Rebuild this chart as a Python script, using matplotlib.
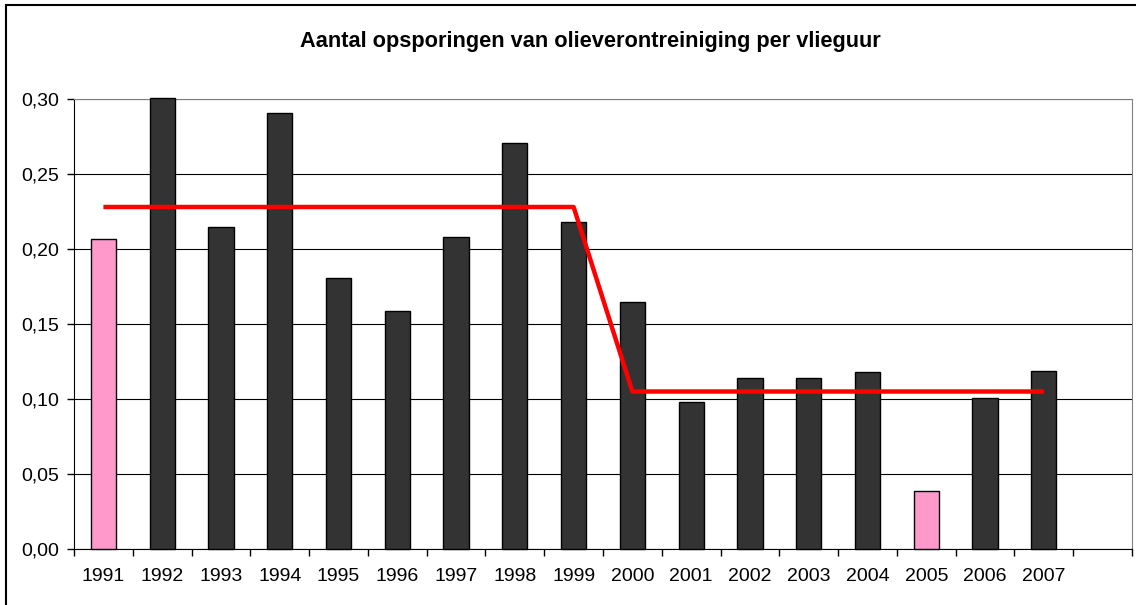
import numpy as np
import matplotlib.pyplot as plt
from matplotlib.patches import Rectangle

jaren = ['1991', '1992', '1993', '1994', '1995', '1996', '1997', '1998', '1999',
         '2000', '2001', '2002', '2003', '2004', '2005', '2006', '2007', '']
waarden = [0.207, 0.301, 0.215, 0.291, 0.181, 0.159, 0.208, 0.271, 0.218,
           0.165, 0.098, 0.114, 0.114, 0.118, 0.039, 0.101, 0.119]
trend = [0.228, 0.228, 0.228, 0.228, 0.228, 0.228, 0.228, 0.228, 0.228,
         0.105, 0.105, 0.105, 0.105, 0.105, 0.105, 0.105, 0.105]
afwijkend = ['1991', '2005']

plt.rcParams['font.family'] = ['Liberation Sans', 'DejaVu Sans']

fig = plt.figure(figsize=(11.36, 6.05), dpi=100)
ax = fig.add_axes([74 / 1136, 1 - 549 / 605, (1132 - 74) / 1136, (549 - 99) / 605])

x = np.arange(len(waarden))
kleuren = ['#FF99CC' if j in afwijkend else '#333333' for j in jaren[:len(waarden)]]
ax.bar(x, waarden, width=0.43, color=kleuren, edgecolor='black', linewidth=1,
       zorder=3, clip_on=False)
ax.plot(x, trend, color='#FF0000', linewidth=3.2, zorder=4, solid_capstyle='butt')

ax.set_xlim(-0.5, len(jaren) - 0.5)
ax.set_ylim(0, 0.30)
ax.set_yticks(np.arange(0, 0.301, 0.05))
ax.set_yticklabels([('%.2f' % v).replace('.', ',') for v in np.arange(0, 0.301, 0.05)])
ax.yaxis.grid(True, color='black', linewidth=0.8, zorder=0)

ax.set_xticks(x.tolist() + [len(waarden)])
ax.set_xticklabels(jaren)
ax.set_xticks(np.arange(-0.5, len(jaren)), minor=True)
ax.tick_params(axis='x', which='major', length=0, pad=14, labelsize=14)
ax.tick_params(axis='x', which='minor', length=5, direction='out', width=1)
ax.tick_params(axis='y', length=5, direction='out', width=1, pad=6, labelsize=14)

ax.spines['top'].set_color('#808080')
ax.spines['right'].set_color('#808080')
ax.spines['left'].set_color('black')
ax.spines['bottom'].set_color('black')

fig.text(590 / 1136, 1 - 42 / 605, 'Aantal opsporingen van olieverontreiniging per vlieguur',
         ha='center', va='center', fontsize=15.7, fontweight='bold')

# rand om de figuur
fig.patches.append(Rectangle((6 / 1136, -0.05), 1.2, 1 - 5 / 605 + 0.05, transform=fig.transFigure,
                             fill=False, edgecolor='black', linewidth=1.5))

plt.savefig('out.png', dpi=100)
